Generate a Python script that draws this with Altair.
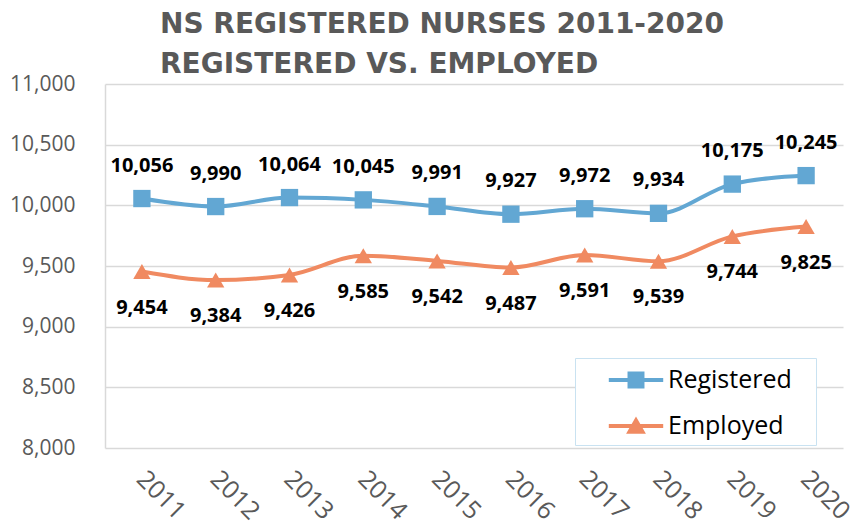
import altair as alt
import pandas as pd

years = ["2011", "2012", "2013", "2014", "2015", "2016", "2017", "2018", "2019", "2020"]
registered = [10056, 9990, 10064, 10045, 9991, 9927, 9972, 9934, 10175, 10245]
employed = [9454, 9384, 9426, 9585, 9542, 9487, 9591, 9539, 9744, 9825]
series_names = ["Registered", "Employed"]
series_colors = ["#62A7D3", "#F08A61"]
y_ticks = [8000, 8500, 9000, 9500, 10000, 10500, 11000]
title_lines = ["NS REGISTERED NURSES 2011-2020", "REGISTERED VS. EMPLOYED"]

df = pd.DataFrame({
    "year": years * 2,
    "series": [series_names[0]] * len(years) + [series_names[1]] * len(years),
    "value": registered + employed,
})

legend_paths = [
    "M-1.7,-0.13H1.7V0.13H-1.7Z M-0.53,-0.53H0.53V0.53H-0.53Z",
    "M-1.7,-0.13H1.7V0.13H-1.7Z M0,-0.6L0.62,0.48H-0.62Z",
]

x_enc = alt.X(
    "year:N",
    sort=years,
    title=None,
    axis=alt.Axis(
        labelAngle=45, labelAlign="left", labelBaseline="top",
        labelPadding=18, labelOffset=7, ticks=False, domain=False, grid=False,
        labelFont="Open Sans", labelFontSize=25, labelColor="#595959",
    ),
)
y_enc = alt.Y(
    "value:Q",
    title=None,
    scale=alt.Scale(domain=[8000, 11000], nice=False, zero=False),
    axis=alt.Axis(
        values=y_ticks, format=",.0f", ticks=False, domain=True, domainColor="#D9D9D9",
        domainWidth=1.5, gridColor="#D9D9D9", gridWidth=1.5, labelPadding=30,
        labelFont="Open Sans", labelFontSize=21, labelColor="#595959",
    ),
)
color_scale = alt.Scale(domain=series_names, range=series_colors)

base = alt.Chart(df).encode(x=x_enc, y=y_enc)

lines = base.mark_line(interpolate="monotone", strokeWidth=4).encode(
    color=alt.Color("series:N", scale=color_scale, legend=None)
)
points = base.mark_point(filled=True, opacity=1, size=300).encode(
    color=alt.Color("series:N", scale=color_scale, legend=None),
    shape=alt.Shape("series:N", scale=alt.Scale(domain=series_names, range=["square", "triangle-up"]), legend=None),
)
label_reg = base.transform_filter(alt.datum.series == series_names[0]).mark_text(
    dy=-33, font="Open Sans", fontWeight="bold", fontSize=20, color="#000000"
).encode(text=alt.Text("value:Q", format=","))
label_emp = base.transform_filter(alt.datum.series == series_names[1]).mark_text(
    dy=36, font="Open Sans", fontWeight="bold", fontSize=20, color="#000000"
).encode(text=alt.Text("value:Q", format=","))

leg = alt.Legend(
    title=None, orient="none", legendX=470, legendY=274,
    symbolSize=1024, symbolStrokeWidth=0, symbolOpacity=1, symbolOffset=39,
    labelFont="Open Sans", labelFontSize=25, labelColor="#000000",
    labelExpr="datum.label + '\u2800'",
    labelOffset=16, rowPadding=17, padding=6,
    strokeColor="#C9E2F1", fillColor="#FFFFFF",
)
legend_layer = base.transform_filter("false").transform_calculate(entry="datum.series").mark_point(filled=True).encode(
    color=alt.Color("entry:N", scale=color_scale, legend=leg),
    shape=alt.Shape("entry:N", scale=alt.Scale(domain=series_names, range=legend_paths), legend=leg),
)

chart = alt.layer(lines, points, label_reg, label_emp, legend_layer).resolve_scale(
    color="independent", shape="independent"
).properties(
    width=738, height=364,
    autosize=alt.AutoSizeParams(type="none"),
    padding={"left": 97, "top": 76, "right": 7, "bottom": 74},
    title=alt.TitleParams(
        text=title_lines, anchor="start", frame="group", dx=55, dy=16, font="DejaVu Sans",
        fontWeight="bold", fontSize=28, color="#595959", lineHeight=40, offset=10,
    ),
).configure_view(stroke=None)

chart.save("out.html", embed_options={"renderer": "svg", "actions": False})
